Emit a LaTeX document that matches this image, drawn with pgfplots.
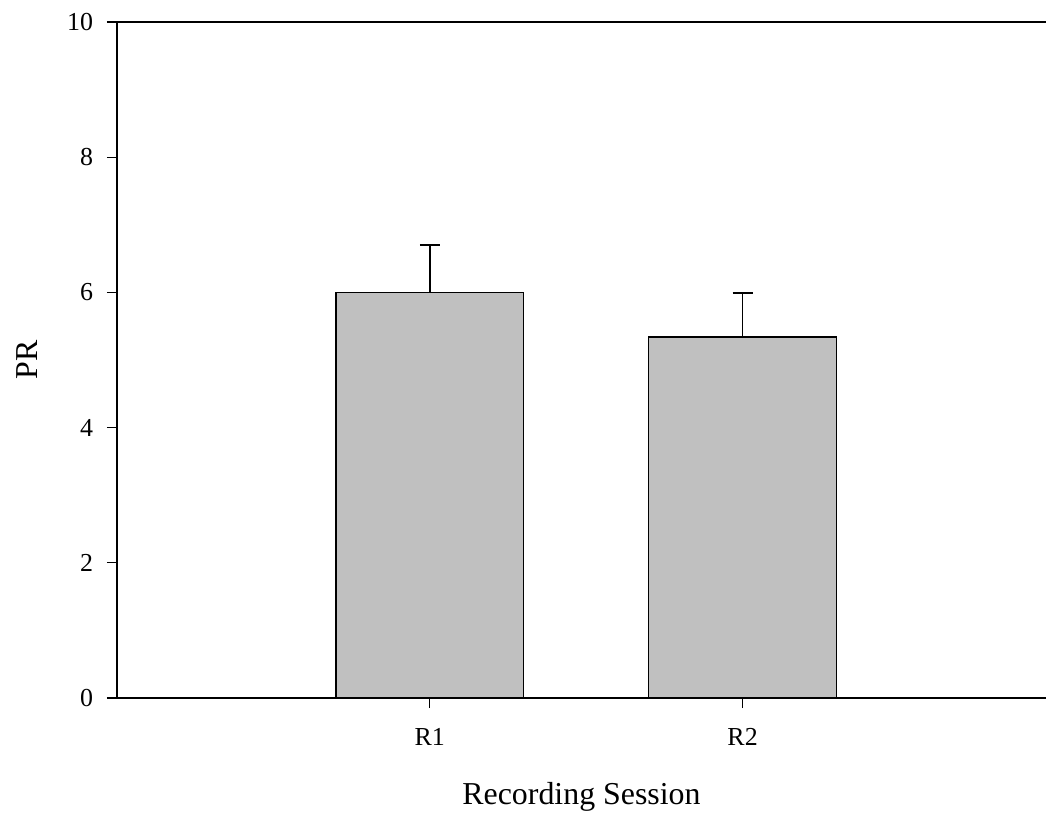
\documentclass[border=0pt]{standalone}
\usepackage{fontspec}
\setmainfont{Liberation Serif}
\usepackage{pgfplots}
\pgfplotsset{compat=1.18}
\begin{document}
\begin{tikzpicture}[x=1bp,y=1bp]
\begin{axis}[
  at={(0,0)}, anchor=south west,
  scale only axis,
  width=464.5bp, height=338bp,
  xmin=0.0, xmax=2.97,
  ymin=0, ymax=10,
  axis x line*=bottom, axis y line*=left,
  x axis line style={-, line width=1bp},
  y axis line style={-, line width=1bp},
  xtick={1,2}, xticklabels={R1,R2},
  ytick={0,2,4,6,8,10},
  tick align=outside,
  major tick length=5bp,
  tick style={black, line width=0.6bp},
  /pgf/number format/assume math mode=true,
  ticklabel style={font=\fontsize{13}{15}\selectfont},
  xticklabel style={yshift=-6.5bp},
  yticklabel style={xshift=-3.5bp},
  xlabel={Recording Session},
  ylabel={PR},
  label style={font=\fontsize{16}{19}\selectfont},
  xlabel style={at={(axis description cs:0.5,-0.146)}, anchor=center},
  ylabel style={at={(axis description cs:-0.097,0.5)}, anchor=center},
  clip=false,
]
\addplot[ybar, bar width=0.6, fill={rgb,255:red,192;green,192;blue,192}, draw=black, line width=0.7bp,
  error bars/.cd, y dir=plus, y explicit,
  error bar style={line width=0.8bp, black},
  error mark options={rotate=90, mark size=5bp, line width=1bp}]
  coordinates {
    (1,6.00) +- (0,0.70)
    (2,5.34) +- (0,0.65)
  };
\draw[line width=1bp] (rel axis cs:0,1) -- (rel axis cs:1,1);
\end{axis}
\pgfresetboundingbox
\useasboundingbox (-58.5bp,-57.5bp) rectangle (464.5bp,349bp);
\end{tikzpicture}
\end{document}
